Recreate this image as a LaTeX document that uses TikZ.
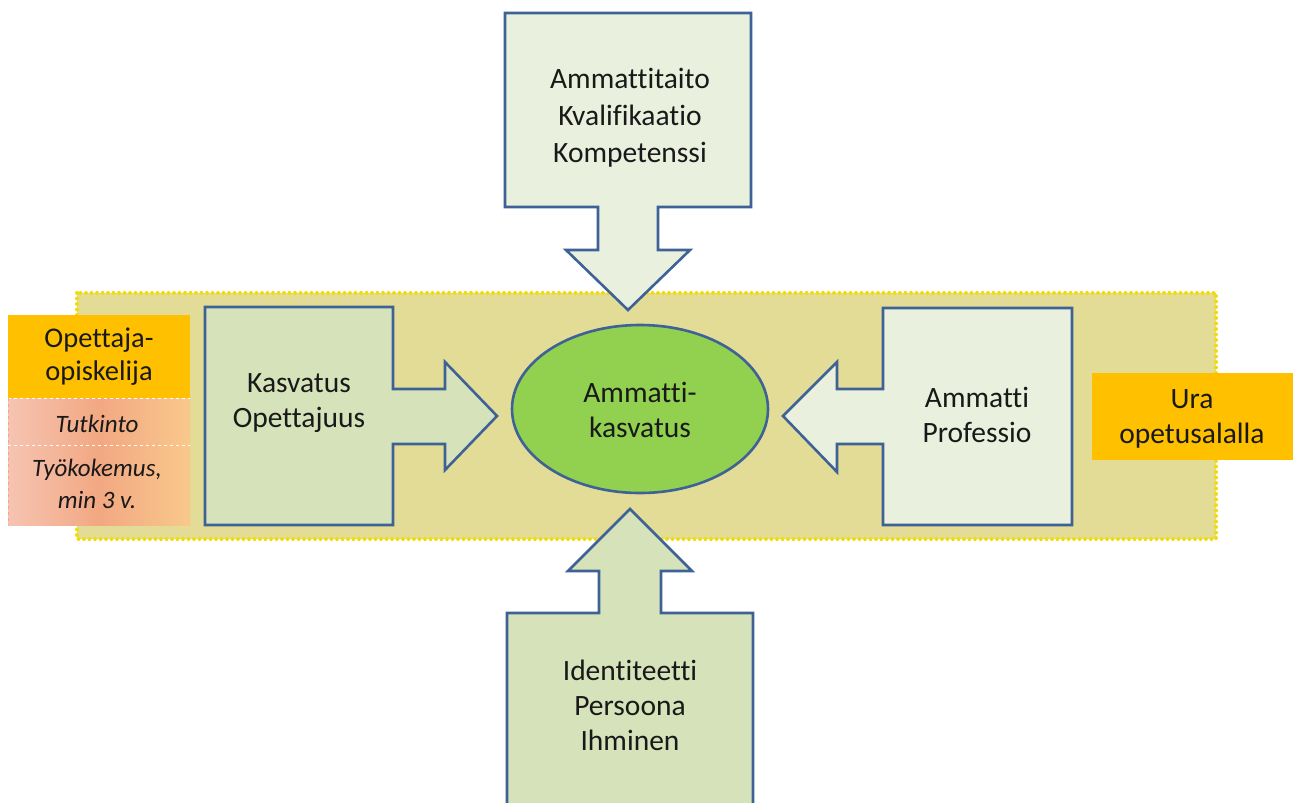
\documentclass[tikz,border=0pt]{standalone}
\usepackage{fontspec}
\setmainfont{Carlito}[Ligatures=NoCommon]
\usetikzlibrary{shapes.geometric}
\definecolor{edgeblue}{RGB}{62,98,150}
\definecolor{boxgreen}{RGB}{214,227,186}
\definecolor{boxpale}{RGB}{234,240,222}
\definecolor{ellgreen}{RGB}{146,208,80}
\definecolor{bandfill}{RGB}{226,220,150}
\definecolor{banddot}{RGB}{240,220,10}
\definecolor{orangebox}{RGB}{255,192,0}
\definecolor{peachL}{RGB}{246,196,178}
\definecolor{peachM}{RGB}{242,168,130}
\definecolor{peachR}{RGB}{249,200,140}
\definecolor{txt}{RGB}{25,25,25}
\tikzset{
  arrowshape/.style={draw=edgeblue, line width=2.6pt, line join=miter},
  lbl/.style={font=\fontsize{29.5}{35}\selectfont, align=center, anchor=base, inner sep=0pt, text=txt},
  itlbl/.style={font=\fontsize{25}{32}\selectfont\itshape, align=center, anchor=base, inner sep=0pt, text=txt},
  peachbox/.style={left color=peachL, right color=peachR, middle color=peachM},
}
\begin{document}
\begin{tikzpicture}[x=1pt,y=-1pt]
\useasboundingbox (0,0) rectangle (1293,803);
\fill[white] (0,0) rectangle (1293,803);
% band
\fill[bandfill] (77,293) rectangle (1216,539);
\draw[banddot, line width=4pt, dash pattern=on 0pt off 5.5pt, line cap=round] (77,293) rectangle (1216,539);
% left side boxes
\fill[orangebox] (8,315) rectangle (190,398);
\shade[peachbox] (8,398) rectangle (190,445);
\shade[peachbox] (8,445) rectangle (190,525);
\draw[white, line width=1pt, dashed] (8,445) -- (190,445);
\draw[white, line width=1pt, dashed] (8,398) -- (190,398);
\draw[peachM, line width=1pt, dashed] (8,398) -- (8,525);
% right orange box
\fill[orangebox] (1092,373) rectangle (1293,460);
% top arrow
\filldraw[arrowshape, fill=boxpale] (505,13) -- (751,13) -- (751,207) -- (658,207) -- (658,250) -- (690,250) -- (628,310) -- (566,250) -- (598,250) -- (598,207) -- (505,207) -- cycle;
% left arrow
\filldraw[arrowshape, fill=boxgreen] (205,307) -- (393,307) -- (393,389) -- (445,389) -- (445,362) -- (497,416) -- (445,470) -- (445,444) -- (393,444) -- (393,525) -- (205,525) -- cycle;
% right arrow
\filldraw[arrowshape, fill=boxpale] (1072,308) -- (1072,525) -- (883,525) -- (883,444) -- (837,444) -- (837,472) -- (783,416) -- (837,362) -- (837,389) -- (883,389) -- (883,308) -- cycle;
% bottom arrow
\filldraw[arrowshape, fill=boxgreen] (507,810) -- (507,613) -- (599,613) -- (599,571) -- (568,571) -- (630,509) -- (692,571) -- (661,571) -- (661,613) -- (753,613) -- (753,810);
% center ellipse
\node[ellipse, draw=edgeblue, line width=2.6pt, fill=ellgreen, minimum width=256pt, minimum height=168pt, inner sep=0pt] (core) at (640,409) {};
% labels (anchor = baseline of last line)
\node[lbl, font=\fontsize{29.5}{37}\selectfont] (toplbl) at (630,162) {Ammattitaito\\Kvalifikaatio\\Kompetenssi};
\node[lbl] (leftlbl) at (299,427) {Kasvatus\\Opettajuus};
\node[lbl] (rightlbl) at (977,442) {Ammatti\\Professio};
\node[lbl] (corelbl) at (640,437) {Ammatti-\\kasvatus};
\node[lbl] (botlbl) at (630,750) {Identiteetti\\Persoona\\Ihminen};
\node[lbl] (uralbl) at (1192,443) {Ura\\opetusalalla};
\node[lbl, font=\fontsize{28.5}{33}\selectfont] (opelbl) at (99,380) {Opettaja-\\opiskelija};
\node[itlbl] (tutlbl) at (97,432) {Tutkinto};
\node[itlbl] (tyolbl) at (97,508) {Työkokemus,\\min 3 v.};
\end{tikzpicture}
\end{document}
